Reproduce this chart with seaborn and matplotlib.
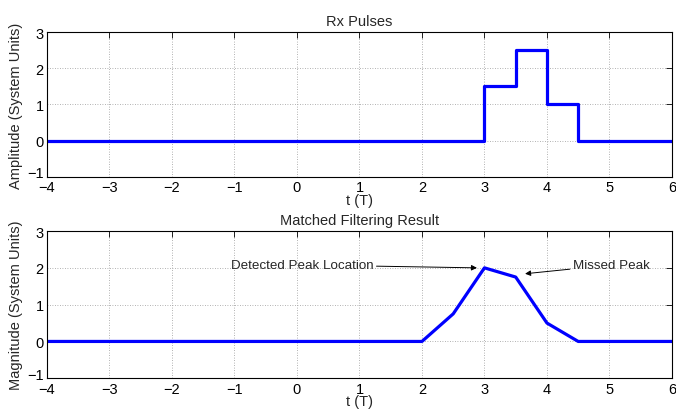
import matplotlib
matplotlib.use("Agg")
import matplotlib.pyplot as plt
import matplotlib.transforms as mtransforms
import seaborn as sns
import pandas as pd

# Data
t_rx = [-4, 3, 3.5, 4, 4.5, 6]
amp_rx = [0, 1.5, 2.5, 1, 0, 0]
t_mf = [-4, 2, 2.5, 3, 3.5, 4, 4.5, 6]
mag_mf = [0, 0, 0.75, 2, 1.75, 0.5, 0, 0]
xticks = [-4, -3, -2, -1, 0, 1, 2, 3, 4, 5, 6]
yticks = [-1, 0, 1, 2, 3]

sns.set_style("white")
plt.rcParams['font.family'] = ['Liberation Sans', 'DejaVu Sans']
plt.rcParams['font.size'] = 10.5

fig = plt.figure(figsize=(6.76, 4.10), dpi=100)
ax1 = fig.add_axes([0.0695, 0.566, 0.9245, 0.3535])
ax2 = fig.add_axes([0.0695, 0.075, 0.9245, 0.359])

df1 = pd.DataFrame({"t": t_rx, "a": amp_rx})
df2 = pd.DataFrame({"t": t_mf, "m": mag_mf})

sns.lineplot(data=df1, x="t", y="a", ax=ax1, color=(0, 0, 1), linewidth=2.3,
             drawstyle="steps-post", estimator=None, sort=False)
sns.lineplot(data=df2, x="t", y="m", ax=ax2, color=(0, 0, 1), linewidth=2.3,
             estimator=None, sort=False)

for ax, title, ylab in [(ax1, "Rx Pulses", "Amplitude (System Units)"),
                        (ax2, "Matched Filtering Result", "Magnitude (System Units)")]:
    ax.set_xlim(-4, 6)
    ax.set_ylim(-1, 3)
    ax.set_xticks(xticks)
    ax.set_yticks(yticks)
    ax.set_title(title, fontsize=10.5, pad=5)
    ax.set_xlabel("t (T)", fontsize=10.5, labelpad=-1)
    ax.set_ylabel(ylab, fontsize=10.5, labelpad=3)
    ax.grid(True, linestyle=(0, (1, 2)), color="#999999", linewidth=0.6)
    ax.tick_params(direction="in", top=True, right=True, length=4, width=0.6,
                   labelsize=10.5, pad=2.5, colors="black")
    for s in ax.spines.values():
        s.set_visible(True)
        s.set_color("black")
        s.set_linewidth(0.8)
    # raise the lowest y tick label slightly so it does not collide with x label
    lbl = ax.get_yticklabels()[0]
    lbl.set_transform(lbl.get_transform() +
                      mtransforms.ScaledTranslation(0, 5 / 100, fig.dpi_scale_trans))

ax2.annotate("Detected Peak Location", xy=(2.88, 2.0), xytext=(1.22, 2.08),
             ha="right", va="center", fontsize=9.6,
             arrowprops=dict(arrowstyle="-|>", color="black", lw=0.7,
                             mutation_scale=8, shrinkA=0, shrinkB=0))
ax2.annotate("Missed Peak", xy=(3.65, 1.84), xytext=(4.42, 2.08),
             ha="left", va="center", fontsize=9.6,
             arrowprops=dict(arrowstyle="-|>", color="black", lw=0.7,
                             mutation_scale=8, shrinkA=0, shrinkB=0))

fig.savefig("out.png", dpi=100)
